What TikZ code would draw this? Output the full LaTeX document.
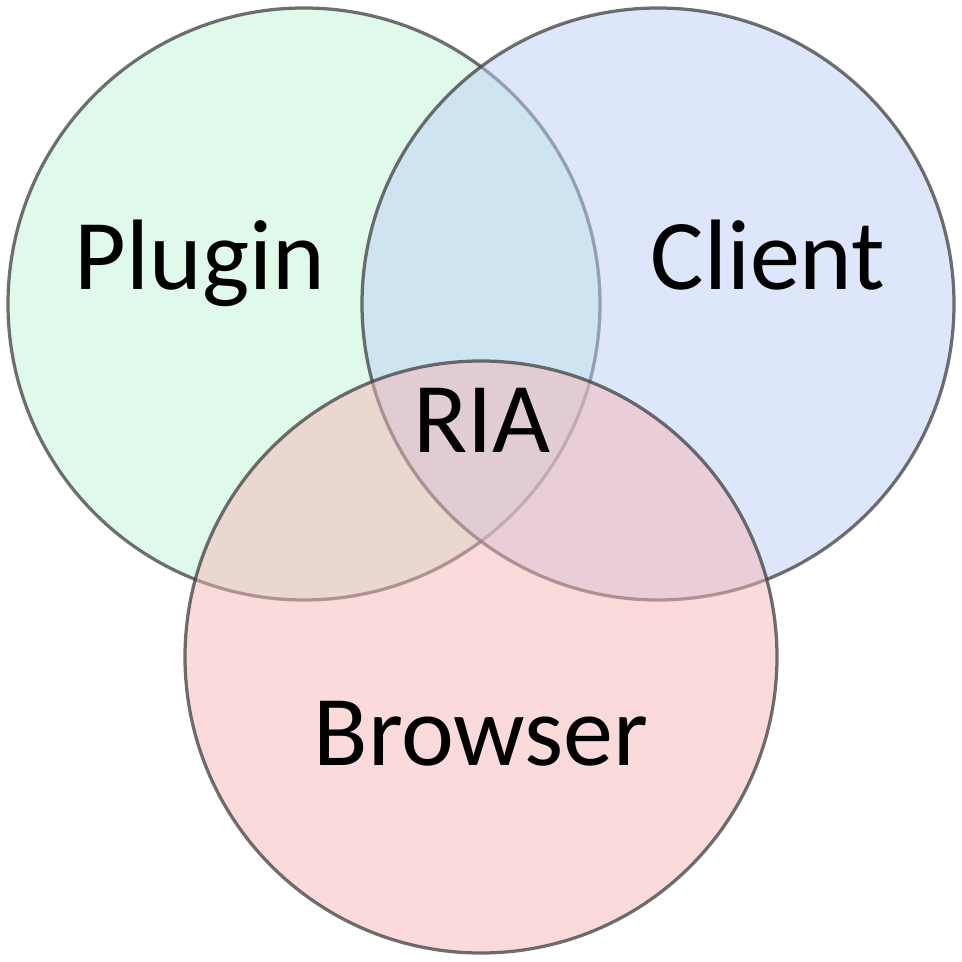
\documentclass[tikz,border=0pt]{standalone}
\usepackage{fontspec}
\setmainfont{Carlito}
\usepackage{tikz}

\definecolor{plugingreen}{HTML}{C0F5D8}
\definecolor{clientblue}{HTML}{BDCEF8}
\definecolor{browserred}{HTML}{F5B5B5}
\definecolor{ringgray}{HTML}{404040}

\tikzset{
    ring/.style={line width=0.065cm, draw=ringgray, draw opacity=0.75, fill opacity=0.5},
    label/.style={anchor=base, font=\fontsize{57}{60}\selectfont}
}

\begin{document}
\begin{tikzpicture}[x=0.02cm, y=-0.02cm]
    \useasboundingbox (0,0) rectangle (962,962);
    \draw[ring, fill=plugingreen] (304,304) circle (296);
    \draw[ring, fill=clientblue] (658,304) circle (296);
    \draw[ring, fill=browserred] (481,657) circle (296);
    \node[label] (plugin) at (200,290) {Plugin};
    \node[label] (client) at (768,290) {Client};
    \node[label] (ria) at (482,452) {RIA};
    \node[label] (browser) at (481,765) {Browser};
\end{tikzpicture}
\end{document}
